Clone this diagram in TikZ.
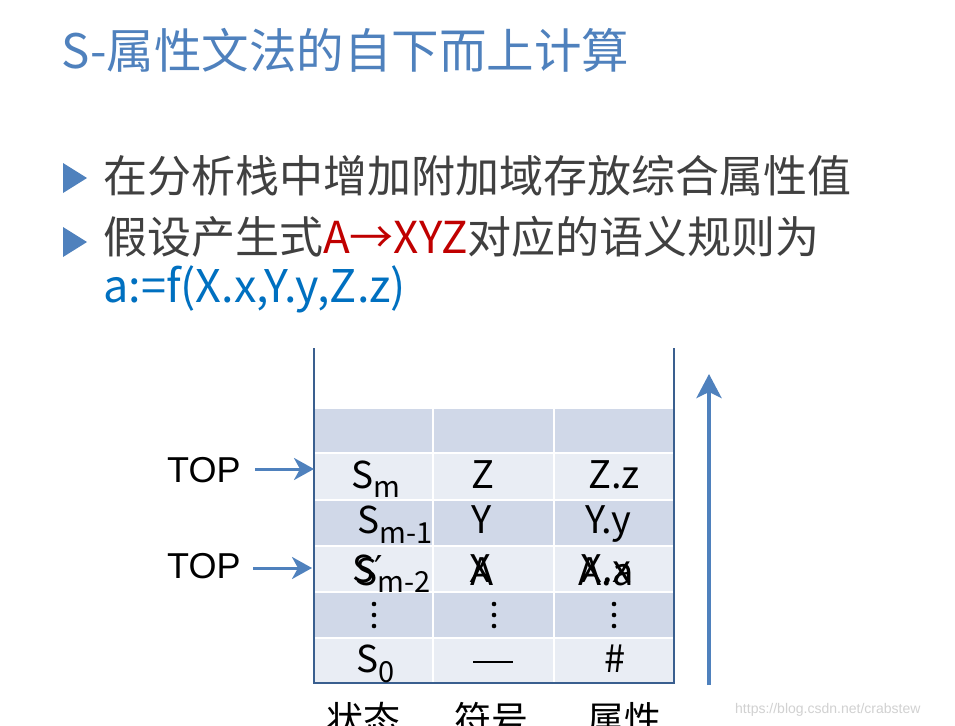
\documentclass[tikz,border=0pt]{standalone}
\usepackage{fontspec}
\setmainfont{Noto Sans CJK SC}
\newfontfamily\arialf{Liberation Sans}
\newfontfamily\dejavuf{DejaVu Sans}
\usetikzlibrary{arrows.meta}
\definecolor{titleblue}{HTML}{4F81BD}
\definecolor{bodygrey}{HTML}{404040}
\definecolor{formblue}{HTML}{0070C0}
\definecolor{redtxt}{HTML}{C00000}
\definecolor{cdark}{HTML}{D0D8E8}
\definecolor{clight}{HTML}{E9EDF4}
\definecolor{wallblue}{HTML}{3A5F8F}
\definecolor{arrblue}{HTML}{4F81BD}
\newcommand\mysub[2][9.5pt]{\raisebox{-#1}{\fontsize{29}{30}\selectfont #2}}
\tikzset{
  celltext/.style={anchor=base, inner sep=0pt, font=\fontsize{38}{42}\selectfont},
  celltextw/.style={anchor=base west, inner sep=0pt, font=\fontsize{37}{42}\selectfont},
  toplabel/.style={anchor=base west, inner sep=0pt, font=\arialf\fontsize{36}{40}\selectfont},
  toparrow/.style={draw=arrblue, line width=3pt, -{Stealth[length=20pt,width=22pt,inset=6pt]}},
  bigarrow/.style={draw=arrblue, line width=4pt, -{Stealth[length=24pt,width=25pt,inset=6pt]}},
  wall/.style={draw=wallblue, line width=2.5pt},
  cell/.style={draw=white, line width=1.5pt},
  bullet/.style={fill=arrblue},
  collabel/.style={anchor=base, inner sep=0pt, font=\fontsize{37}{40}\selectfont}
}
\begin{document}
\begin{tikzpicture}[x=1pt,y=-1pt]
\useasboundingbox (0,0) rectangle (955,725);
\clip (0,0) rectangle (955,725);
\fill[white] (0,0) rectangle (955,725);

% title
\node[anchor=base west, inner sep=0pt, text=titleblue, font=\fontsize{47.5}{54}\selectfont] (title) at (61,68) {S-属性文法的自下而上计算};

% bullets
\fill[bullet] (63,163) -- (87,178) -- (63,193) -- cycle;
\fill[bullet] (63,227) -- (87,242) -- (63,257) -- cycle;
\node[anchor=base west, inner sep=0pt, text=bodygrey, font=\fontsize{44}{50}\selectfont] (b1) at (103,192) {在分析栈中增加附加域存放综合属性值};
\node[anchor=base west, inner sep=0pt, text=bodygrey, font=\fontsize{44}{50}\selectfont] (b2) at (103,253) {假设产生式\textcolor{redtxt}{A→XYZ}对应的语义规则为};
\node[anchor=base west, inner sep=0pt, text=formblue, font=\fontsize{45}{50}\selectfont] (b3) at (103,302) {a:=f(X.x,Y.y,Z.z)};

% stack cells
\foreach \ya/\yb/\c in {408/453/cdark,453/500/clight,500/546/cdark,546/592/clight,592/638/cdark,638/683/clight}
  \foreach \xa/\xb in {314/433,433/554,554/674}
    \filldraw[cell, fill=\c] (\xa,\ya) rectangle (\xb,\yb);
\draw[wall] (314,348) -- (314,683) -- (674,683) -- (674,348);

% column 1
\node[celltextw] (sm) at (351,488) {S\mysub{m}};
\node[celltextw] (sm1) at (357,533) {S\mysub[10pt]{m-1}};
\node[celltextw] (sp) at (352,582) {S{\dejavuf ′}};
\node[celltextw] (sm2) at (355,585) {S\mysub[7pt]{m-2}};
\node[celltextw] (s0) at (356,672) {S\mysub[10pt]{0}};
% column 2
\node[celltext] (z) at (483,488) {Z};
\node[celltext] (y) at (482,533) {Y};
\node[celltext] (x) at (480,582) {X};
\node[celltext] (a) at (482,585) {A};
\node[inner sep=0pt] (dash) at (493,662) {\rule{40pt}{2.6pt}};
% column 3
\node[celltext] (zz) at (614,488) {Z.z};
\node[celltext] (yy) at (608,533) {Y.y};
\node[celltext] (xx) at (606,582) {X.x};
\node[celltext] (aa) at (606,585) {A.a};
\node[celltext] (hash) at (615,672) {\#};
% vertical dots
\foreach \xd in {374,494,614}
  \foreach \yd in {604,615,626}
    \fill (\xd,\yd) circle (2.3pt);

% TOP labels
\node[toplabel] (top1) at (167,482) {TOP};
\node[toplabel] (top2) at (167,578) {TOP};
\coordinate (t1s) at (255,469);
\coordinate (t1e) at (314,469);
\coordinate (t2s) at (253,568);
\coordinate (t2e) at (312,568);
\draw[toparrow] (t1s) -- (t1e);
\draw[toparrow] (t2s) -- (t2e);

% big upward arrow
\coordinate (up1) at (709,685);
\coordinate (up2) at (709,374);
\draw[bigarrow] (up1) -- (up2);

% column labels (clipped at the lower edge, as in the reference)
\node[collabel] (l1) at (363,733) {状态};
\node[collabel] (l2) at (491,733) {符号};
\node[collabel] (l3) at (624,733) {属性};

% watermark
\node[anchor=base west, inner sep=0pt, text=black!18, font=\arialf\fontsize{14}{16}\selectfont] (wm) at (735,713) {https://blog.csdn.net/crabstew};
\end{tikzpicture}
\end{document}
